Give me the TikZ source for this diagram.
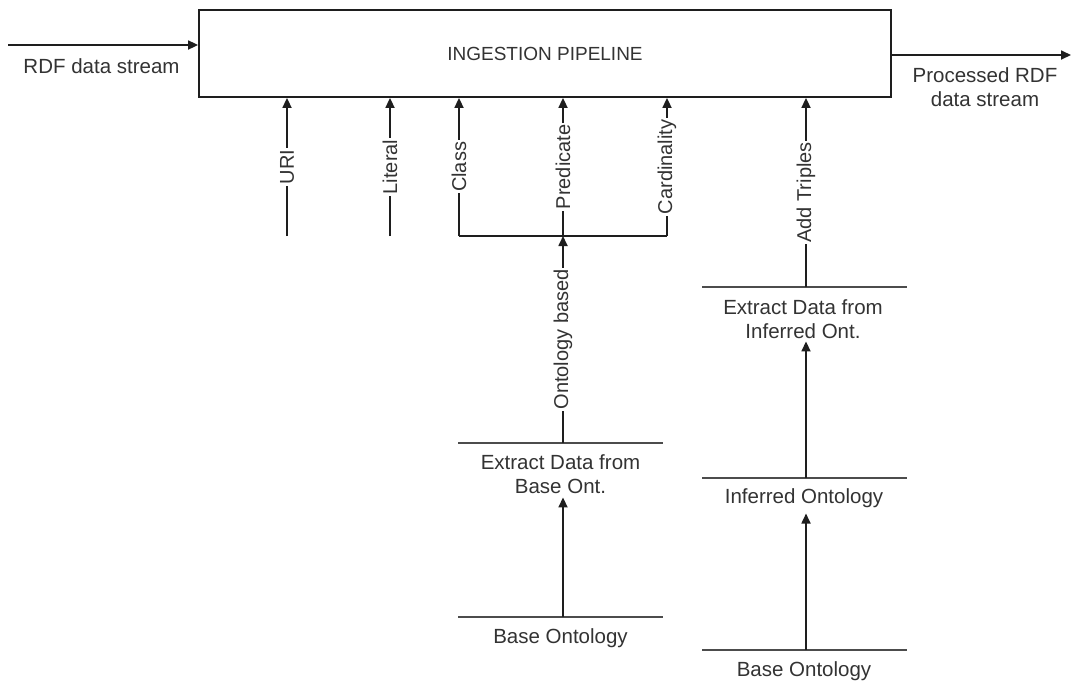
\documentclass[tikz,border=0pt]{standalone}
\usepackage{fontspec}
\setmainfont{Liberation Sans}
\usetikzlibrary{arrows.meta}
\definecolor{ink}{HTML}{333333}
\definecolor{lin}{HTML}{1E1E1E}
\begin{document}
\begin{tikzpicture}[x=1pt,y=-1pt,
  every node/.style={text=ink},
  lbl/.style={font=\fontsize{20.5}{24}\selectfont, align=center, inner sep=0pt},
  vlab/.style={font=\fontsize{20}{24}\selectfont, rotate=90, fill=white, inner xsep=1.5pt, inner ysep=0pt},
  conn/.style={draw=lin, line width=1.7pt},
  arr/.style={conn, -{Triangle[length=10pt,width=9pt]}},
  barline/.style={draw=black!70, line width=1.8pt}
]
\useasboundingbox[fill=white] (0,0) rectangle (1073,681);

% main box
\node[draw=lin, line width=1.8pt, minimum width=692pt, minimum height=87pt, inner sep=0pt,
      font=\fontsize{19}{22}\selectfont] (pipe) at (545,53.5) {INGESTION PIPELINE};

% input / output
\coordinate (inS) at (8,45);
\draw[arr] (inS) -- (inS -| pipe.west);
\node[lbl, anchor=base] (inL) at (101.5,73) {RDF data stream};

\coordinate (outE) at (1071,55);
\draw[arr] (outE -| pipe.east) -- (outE);
\node[lbl, anchor=north] (outL) at (985,67) {Processed RDF\\data stream};

% controls
\coordinate (uri0) at (287,236);
\draw[arr] (uri0) -- node[vlab] (uriL) {URI} (uri0 |- pipe.south);
\coordinate (lit0) at (390,236);
\draw[arr] (lit0) -- node[vlab] (litL) {Literal} (lit0 |- pipe.south);

\coordinate (jc) at (459,236);
\coordinate (jp) at (563,236);
\coordinate (jk) at (667,236);
\draw[conn] (jc) -- (jk);
\draw[arr] (jc) -- node[vlab] (clsL) {Class} (jc |- pipe.south);
\draw[arr] (jp) -- node[vlab] (preL) {Predicate} (jp |- pipe.south);
\draw[arr] (jk) -- node[vlab] (carL) {Cardinality} (jk |- pipe.south);

% left column
\coordinate (b1) at (563,443);
\draw[barline] (458,443) -- (663,443);
\node[lbl, anchor=north] (ebo) at (560.5,454) {Extract Data from\\Base Ont.};
\draw[arr] (b1) -- node[vlab] (ontL) {Ontology based} (jp);

\coordinate (b2) at (563,617);
\draw[barline] (458,617) -- (663,617);
\node[lbl, anchor=north] (bo1) at (560.5,628) {Base Ontology};
\draw[arr] (b2) -- ([yshift=-4pt]b2 |- ebo.south);

% right column
\coordinate (r1) at (806,287);
\draw[barline] (702,287) -- (907,287);
\node[lbl, anchor=north] (eio) at (803,299) {Extract Data from\\Inferred Ont.};
\draw[arr] (r1) -- node[vlab] (addL) {Add Triples} (r1 |- pipe.south);

\coordinate (r2) at (806,478);
\draw[barline] (702,478) -- (907,478);
\node[lbl, anchor=north] (io) at (804,488) {Inferred Ontology};
\draw[arr] (r2) -- ([yshift=-3pt]r2 |- eio.south);

\coordinate (r3) at (806,650);
\draw[barline] (702,650) -- (907,650);
\node[lbl, anchor=north] (bo2) at (804,661) {Base Ontology};
\draw[arr] (r3) -- ([yshift=-6pt]r3 |- io.south);
\end{tikzpicture}
\end{document}
